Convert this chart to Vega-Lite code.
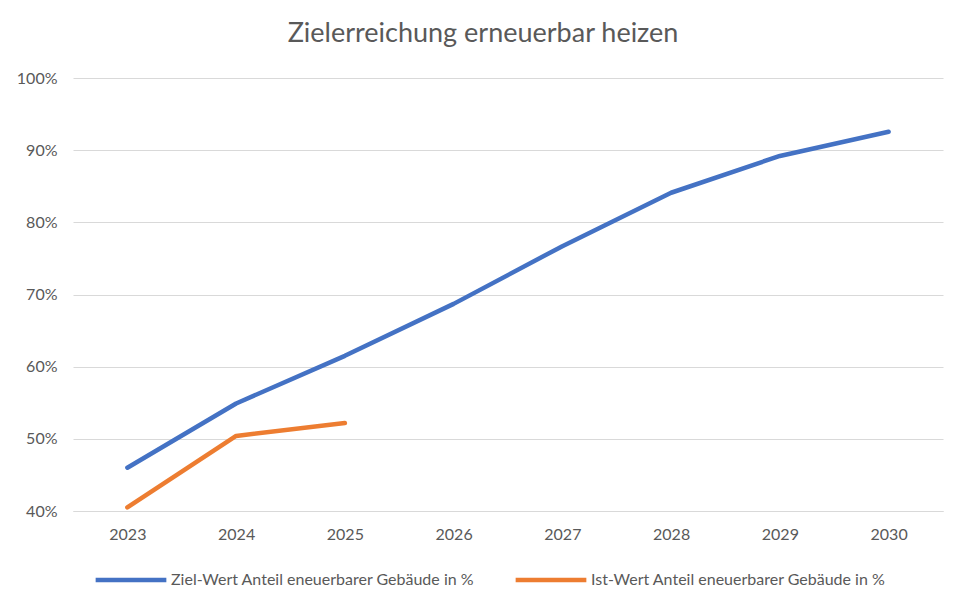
{
  "$schema": "https://vega.github.io/schema/vega-lite/v6.json",
  "width": 870,
  "height": 433,
  "autosize": "none",
  "padding": {"left": 73, "top": 78, "right": 23, "bottom": 98},
  "background": "white",
  "title": {
    "text": "Zielerreichung erneuerbar heizen",
    "font": "Lato",
    "fontSize": 27,
    "fontWeight": "normal",
    "color": "#595959",
    "anchor": "middle",
    "dx": -25,
    "offset": 22
  },
  "config": {
    "view": {"stroke": null},
    "font": "Lato"
  },
  "data": {
    "values": [
      {"Jahr": "2023", "Reihe": "Ziel-Wert Anteil eneuerbarer Gebäude in %", "Anteil": 0.46},
      {"Jahr": "2024", "Reihe": "Ziel-Wert Anteil eneuerbarer Gebäude in %", "Anteil": 0.549},
      {"Jahr": "2025", "Reihe": "Ziel-Wert Anteil eneuerbarer Gebäude in %", "Anteil": 0.615},
      {"Jahr": "2026", "Reihe": "Ziel-Wert Anteil eneuerbarer Gebäude in %", "Anteil": 0.687},
      {"Jahr": "2027", "Reihe": "Ziel-Wert Anteil eneuerbarer Gebäude in %", "Anteil": 0.767},
      {"Jahr": "2028", "Reihe": "Ziel-Wert Anteil eneuerbarer Gebäude in %", "Anteil": 0.841},
      {"Jahr": "2029", "Reihe": "Ziel-Wert Anteil eneuerbarer Gebäude in %", "Anteil": 0.892},
      {"Jahr": "2030", "Reihe": "Ziel-Wert Anteil eneuerbarer Gebäude in %", "Anteil": 0.9255},
      {"Jahr": "2023", "Reihe": "Ist-Wert Anteil eneuerbarer Gebäude in %", "Anteil": 0.405},
      {"Jahr": "2024", "Reihe": "Ist-Wert Anteil eneuerbarer Gebäude in %", "Anteil": 0.504},
      {"Jahr": "2025", "Reihe": "Ist-Wert Anteil eneuerbarer Gebäude in %", "Anteil": 0.522}
    ]
  },
  "mark": {"type": "line", "strokeWidth": 4.5, "strokeCap": "round", "strokeJoin": "round"},
  "encoding": {
    "x": {
      "field": "Jahr",
      "type": "ordinal",
      "scale": {"type": "point", "padding": 0.5},
      "axis": {
        "title": null,
        "labelAngle": 0,
        "labelFontSize": 16,
        "labelColor": "#595959",
        "labelPadding": 15,
        "ticks": false,
        "domainColor": "#d9d9d9",
        "domainWidth": 1,
        "grid": false
      }
    },
    "y": {
      "field": "Anteil",
      "type": "quantitative",
      "scale": {"domain": [0.4, 1.0], "nice": false, "zero": false},
      "axis": {
        "title": null,
        "format": ".0%",
        "values": [0.4, 0.5, 0.6, 0.7, 0.8, 0.9, 1.0],
        "labelFontSize": 16,
        "labelColor": "#595959",
        "labelPadding": 16,
        "ticks": false,
        "domain": false,
        "gridColor": "#d9d9d9",
        "gridWidth": 1
      }
    },
    "color": {
      "field": "Reihe",
      "type": "nominal",
      "sort": ["Ziel-Wert Anteil eneuerbarer Gebäude in %", "Ist-Wert Anteil eneuerbarer Gebäude in %"],
      "scale": {
        "domain": ["Ziel-Wert Anteil eneuerbarer Gebäude in %", "Ist-Wert Anteil eneuerbarer Gebäude in %"],
        "range": ["#4472C4", "#ED7D31"]
      },
      "legend": {
        "title": null,
        "orient": "none",
        "direction": "horizontal",
        "legendX": 20,
        "legendY": 464,
        "symbolType": "stroke",
        "symbolSize": 5000,
        "symbolStrokeWidth": 4.5,
        "labelFontSize": 16,
        "labelColor": "#595959",
        "labelOffset": 2,
        "labelLimit": 400,
        "columnPadding": 31
      }
    }
  }
}
